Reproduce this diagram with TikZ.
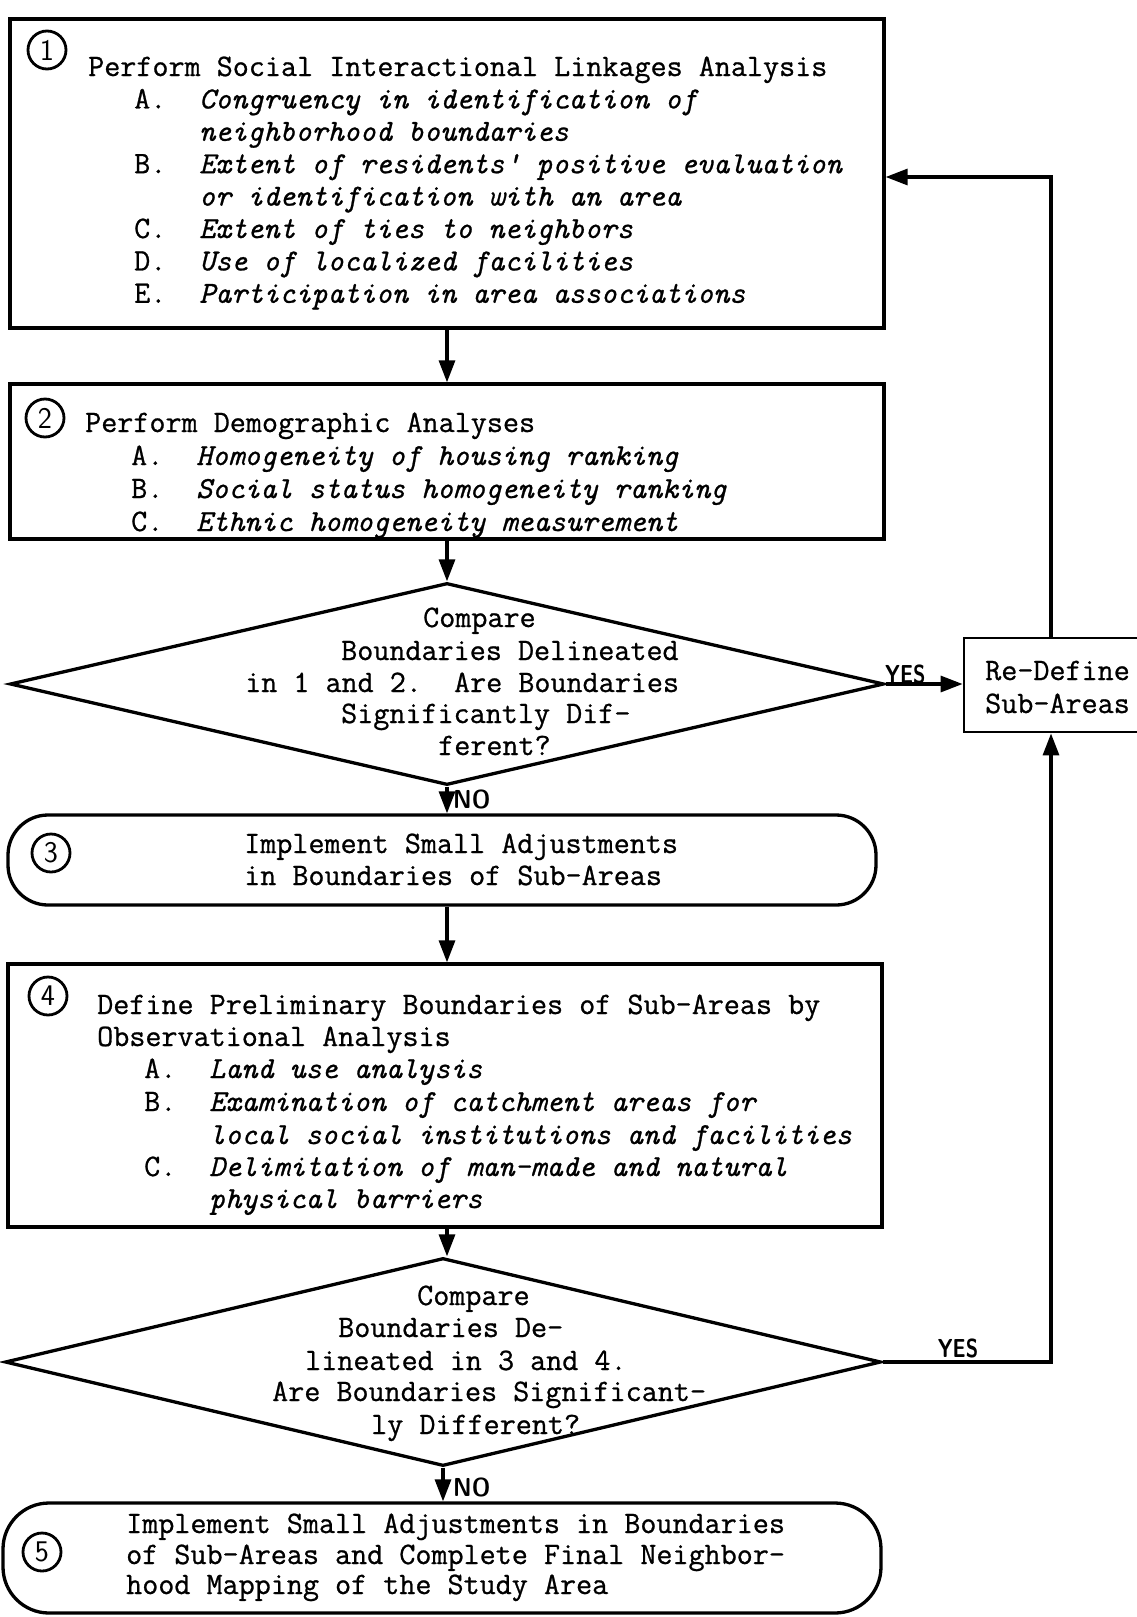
\documentclass[tikz,border=0pt]{standalone}
\usepackage{fontspec}
\setmonofont{Latin Modern Mono}[FakeBold=0.8]
\usetikzlibrary{shapes.geometric,arrows.meta}
\begin{document}
\begin{tikzpicture}[x=1pt,y=-1pt,
  every node/.style={inner sep=0pt},
  frame/.style={draw, line width=3.3pt, inner sep=0pt},
  txt/.style={anchor=base west, font=\fontsize{31.2}{32}\selectfont\ttfamily},
  itm/.style={anchor=base west, font=\fontsize{30.6}{32}\selectfont\ttfamily\itshape},
  num/.style={circle, draw, line width=2.8pt, minimum size=38pt, font=\fontsize{30}{30}\selectfont\sffamily},
  arr/.style={line width=3.2pt, -{Triangle[length=22pt,width=16pt]}},
  lab/.style={font=\fontsize{26}{26}\selectfont\sffamily\bfseries},
]
\useasboundingbox (0,0) rectangle (1137,1617);

% ---------- shapes ----------
\node[frame, minimum width=874pt, minimum height=309pt] (b1) at (447,173.5) {};
\node[frame, minimum width=874pt, minimum height=155pt] (b2) at (447,461.5) {};
\node[diamond, draw, line width=3.3pt, minimum width=874pt, minimum height=202pt] (d1) at (447,684) {};
\node[draw, line width=2.8pt, minimum width=190pt, minimum height=94pt] (rd) at (1059,685) {};
\node[frame, rounded corners=40pt, minimum width=868pt, minimum height=90pt] (b3) at (442,860) {};
\node[frame, minimum width=874pt, minimum height=263pt] (b4) at (445,1095.5) {};
\node[diamond, draw, line width=3.3pt, minimum width=876pt, minimum height=208pt] (d2) at (443,1362) {};
\node[frame, rounded corners=46pt, minimum width=878pt, minimum height=110pt] (b5) at (442,1558) {};

% ---------- circled numbers ----------
\node[num] (n1) at (47,50) {1};
\node[num] (n2) at (45,418) {2};
\node[num] (n3) at (51,853) {3};
\node[num] (n4) at (48,996) {4};
\node[num] (n5) at (42,1552) {5};

% ---------- box 1 ----------
\node[txt] (t1a) at (88,76) {Perform Social Interactional Linkages Analysis};
\node[txt] (t1A) at (134,108.4) {A.};
\node[itm] (t1b) at (199,108.4) {Congruency in identification of};
\node[itm] (t1c) at (199,140.8) {neighborhood boundaries};
\node[txt] (t1B) at (134,173.2) {B.};
\node[itm] (t1d) at (199,173.2) {Extent of residents' positive evaluation};
\node[itm] (t1e) at (199,205.6) {or identification with an area};
\node[txt] (t1C) at (134,238) {C.};
\node[itm] (t1f) at (199,238) {Extent of ties to neighbors};
\node[txt] (t1D) at (134,270.4) {D.};
\node[itm] (t1g) at (199,270.4) {Use of localized facilities};
\node[txt] (t1E) at (134,302.8) {E.};
\node[itm] (t1h) at (199,302.8) {Participation in area associations};

% ---------- box 2 ----------
\node[txt] (t2a) at (85,432) {Perform Demographic Analyses};
\node[txt] (t2A) at (131,465) {A.};
\node[itm] (t2b) at (196,465) {Homogeneity of housing ranking};
\node[txt] (t2B) at (131,498) {B.};
\node[itm] (t2c) at (196,498) {Social status homogeneity ranking};
\node[txt] (t2C) at (131,531) {C.};
\node[itm] (t2d) at (196,531) {Ethnic homogeneity measurement};

% ---------- diamond 1 ----------
\node[txt] (q1a) at (423,627) {Compare};
\node[txt] (q1b) at (341,660) {Boundaries Delineated};
\node[txt] (q1c) at (245,692) {in 1 and 2.\ \ Are Boundaries};
\node[txt] (q1d) at (341,723) {Significantly Dif-};
\node[txt] (q1e) at (438,755) {ferent?};

% ---------- re-define ----------
\node[txt] (r1) at (985,680) {Re-Define};
\node[txt] (r2) at (985,713) {Sub-Areas};

% ---------- box 3 ----------
\node[txt] (t3a) at (244,853) {Implement Small Adjustments};
\node[txt] (t3b) at (244,885) {in Boundaries of Sub-Areas};

% ---------- box 4 ----------
\node[txt] (t4a) at (97,1014) {Define Preliminary Boundaries of Sub-Areas by};
\node[txt] (t4b) at (97,1046) {Observational Analysis};
\node[txt] (t4A) at (144,1078) {A.};
\node[itm] (t4c) at (209,1078) {Land use analysis};
\node[txt] (t4B) at (144,1111) {B.};
\node[itm] (t4d) at (209,1111) {Examination of catchment areas for};
\node[itm] (t4e) at (209,1144) {local social institutions and facilities};
\node[txt] (t4C) at (144,1176) {C.};
\node[itm] (t4f) at (209,1176) {Delimitation of man-made and natural};
\node[itm] (t4g) at (209,1208) {physical barriers};

% ---------- diamond 2 ----------
\node[txt] (q2a) at (417,1305) {Compare};
\node[txt] (q2b) at (338,1337) {Boundaries De-};
\node[txt] (q2c) at (305,1370) {lineated in 3 and 4.};
\node[txt] (q2d) at (272,1401) {Are Boundaries Significant-};
\node[txt] (q2e) at (371,1434) {ly Different?};

% ---------- box 5 ----------
\node[txt] (t5a) at (126,1533) {Implement Small Adjustments in Boundaries};
\node[txt] (t5b) at (126,1564) {of Sub-Areas and Complete Final Neighbor-};
\node[txt] (t5c) at (126,1594) {hood Mapping of the Study Area};

% ---------- connectors ----------
\coordinate (top) at (1051,177);
\coordinate (bot) at (1051,1362);
\draw[arr] (b1.south) -- (b1.south |- b2.north);
\draw[arr] (b2.south) -- (b2.south |- d1.north);
\draw[arr] (d1.south) -- (d1.south |- b3.north);
\draw[arr] (b3.south -| d1.south) -- (d1.south |- b4.north);
\draw[arr] (b4.south -| d1.south) -- (d1.south |- d2.north);
\draw[arr] (d2.south) -- (d2.south |- b5.north);
\draw[arr] (d1.east) -- (rd.west |- d1.east);
\draw[arr] (rd.north -| top) -- (top) -- (b1.east |- top);
\draw[arr] (d2.east) -- (bot) -- (rd.south -| bot);

% ---------- labels ----------
\node[lab, xscale=0.78, anchor=south west] (yes1) at (885,684) {YES};
\node[lab, xscale=0.9, anchor=west] (no1) at (453,799) {NO};
\node[lab, xscale=0.78, anchor=south] (yes2) at (958,1358) {YES};
\node[lab, xscale=0.9, anchor=west] (no2) at (453,1487) {NO};
\end{tikzpicture}
\end{document}
